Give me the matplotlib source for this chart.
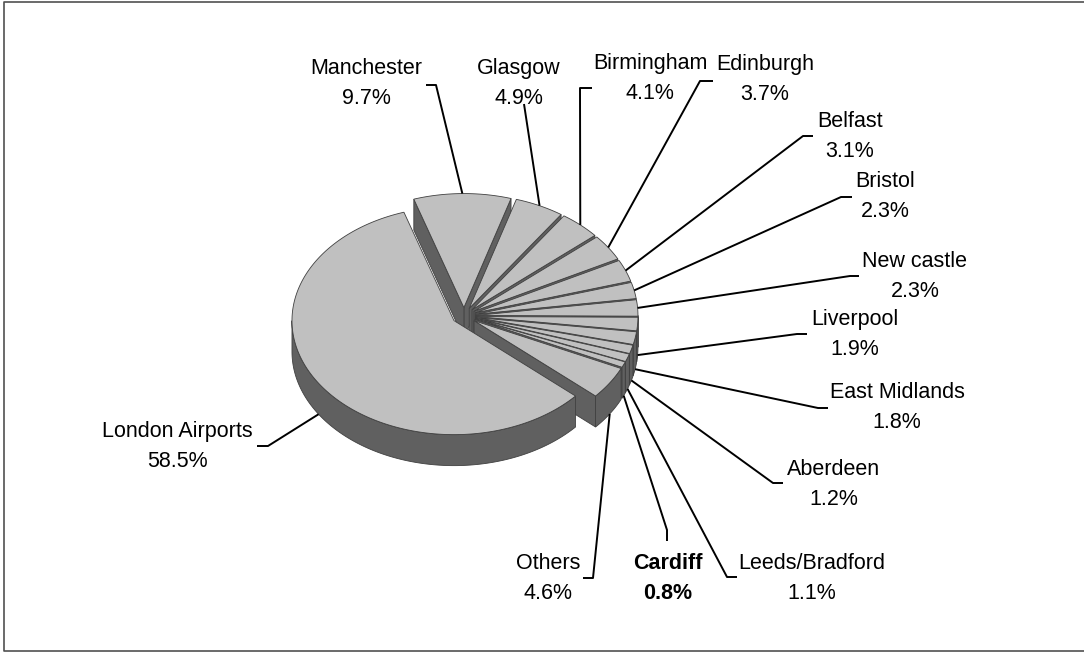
import numpy as np
import matplotlib
matplotlib.use('Agg')
import matplotlib.pyplot as plt
from matplotlib.patches import Polygon

# passenger share by airport, clockwise from the top of the pie
airports = ['Manchester', 'Glasgow', 'Birmingham', 'Edinburgh', 'Belfast', 'Bristol',
            'New castle', 'Liverpool', 'East Midlands', 'Aberdeen', 'Leeds/Bradford',
            'Cardiff', 'Others', 'London Airports']
shares = [9.7, 4.9, 4.1, 3.7, 3.1, 2.3, 2.3, 1.9, 1.8, 1.2, 1.1, 0.8, 4.6, 58.5]
bold_label = 'Cardiff'

# label centre (x, first line y), leader elbow and short tick end, in pixels
label_xy = [(366, 67), (519, 67), (650, 62), (765, 63), (850, 120), (885, 180),
            (915, 260), (855, 318), (897, 391), (834, 468), (812, 562),
            (668, 562), (548, 562), (177, 430)]
elbow_xy = [(436, 85), (524, 104), (580, 88), (700, 81), (803, 136), (841, 197),
            (850, 276), (797, 334), (818, 408), (773, 483), (727, 577),
            (667, 530), (593, 578), (268, 446)]
tick_xy = [(426, 85), (524, 104), (592, 88), (713, 81), (813, 136), (852, 197),
           (859, 276), (807, 334), (828, 408), (783, 483), (737, 577),
           (667, 541), (583, 578), (257, 446)]

start_angle = 108
cx, cy, rx, ry = 464, 316, 162, 114
depth = 31
explode = 0.074
top_color = '#c0c0c0'
side_color = '#606060'
edge_color = '#404040'

plt.rcParams['font.family'] = ['Liberation Sans', 'DejaVu Sans']

fig = plt.figure(figsize=(10.84, 6.56), dpi=100)
ax = fig.add_axes([0, 0, 1, 1])
ax.set_xlim(0, 1084)
ax.set_ylim(656, 0)
ax.axis('off')


def to_screen(u, v, z=0.0):
    return np.column_stack([cx + rx * np.asarray(u, float),
                            cy - ry * np.asarray(v, float) + z])


fracs = np.array(shares) / np.sum(shares)
ends = start_angle - 360 * np.concatenate([[0], np.cumsum(fracs)[:-1]])
starts = ends - 360 * fracs

sides = []
tops = []
anchors = []
for t0, t1 in zip(starts, ends):
    mid = np.radians((t0 + t1) / 2)
    ou, ov = explode * np.cos(mid), explode * np.sin(mid)

    n = max(4, int((t1 - t0) * 2))
    a = np.radians(np.linspace(t0, t1, n))
    top_u = np.concatenate([[ou], ou + np.cos(a)])
    top_v = np.concatenate([[ov], ov + np.sin(a)])
    tops.append(to_screen(top_u, top_v))

    # curved rim, only the part facing the viewer
    for k in range(-2, 2):
        lo, hi = max(t0, 180 + 360 * k), min(t1, 360 + 360 * k)
        if hi > lo:
            b = np.radians(np.linspace(lo, hi, max(4, int((hi - lo) * 2))))
            up = to_screen(ou + np.cos(b), ov + np.sin(b))
            dn = to_screen(ou + np.cos(b), ov + np.sin(b), depth)[::-1]
            sides.append((np.mean(ov + np.sin(b)), np.vstack([up, dn])))

    # radial walls
    for ang, seen in ((t1, np.cos(np.radians(t1)) < 0), (t0, np.cos(np.radians(t0)) > 0)):
        if not seen:
            continue
        r = np.radians(ang)
        u = [ou, ou + np.cos(r), ou + np.cos(r), ou]
        v = [ov, ov + np.sin(r), ov + np.sin(r), ov]
        z = [0, 0, depth, depth]
        poly = np.column_stack([cx + rx * np.array(u), cy - ry * np.array(v) + np.array(z)])
        sides.append((ov + 0.5 * np.sin(r), poly))

    # leader line target on the slice
    pu, pv = ou + np.cos(mid), ov + np.sin(mid)
    anchors.append(to_screen([pu], [pv], depth if np.sin(mid) < 0 else 0)[0])

for _, poly in sorted(sides, key=lambda s: -s[0]):
    ax.add_patch(Polygon(poly, closed=True, facecolor=side_color,
                         edgecolor=edge_color, lw=0.6, zorder=2))
for poly in tops:
    ax.add_patch(Polygon(poly, closed=True, facecolor=top_color,
                         edgecolor=edge_color, lw=0.6, zorder=3))

# leader lines and labels
for name, share, (lx, ly), elb, tick, anc in zip(airports, shares, label_xy,
                                                  elbow_xy, tick_xy, anchors):
    ax.plot([anc[0], elb[0], tick[0]], [anc[1], elb[1], tick[1]],
            color='black', lw=1.4, solid_capstyle='butt', zorder=4)
    weight = 'bold' if name == bold_label else 'normal'
    ax.text(lx, ly + 7, name, ha='center', va='baseline', fontsize=15.5,
            fontweight=weight, zorder=5)
    ax.text(lx, ly + 37, f'{share:.1f}%', ha='center', va='baseline', fontsize=15.5,
            fontweight=weight, zorder=5)

# chart area frame
ax.plot([1084, 4, 4, 1084], [2, 2, 651, 651], color='#505050', lw=1.2, zorder=1)

fig.savefig('out.png', dpi=100)
